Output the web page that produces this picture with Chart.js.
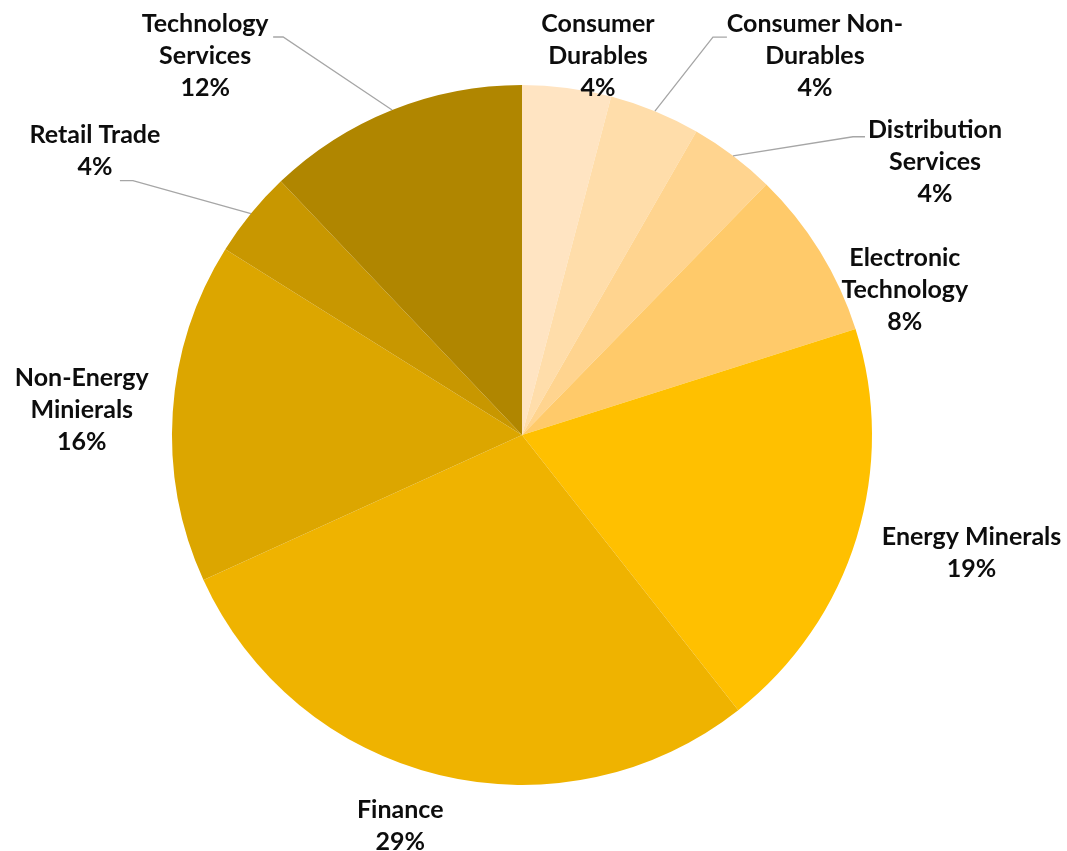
<!DOCTYPE html>
<html>
<head>
<meta charset="utf-8">
<script src="https://cdn.jsdelivr.net/npm/chart.js@4/dist/chart.umd.min.js"></script>
<style>
  html, body { margin: 0; padding: 0; background: #fff; }
  #wrap { width: 1067px; height: 851px; }
</style>
</head>
<body>
<div id="wrap"><canvas id="pie"></canvas></div>
<script>
// Données (sens horaire depuis midi)
const categories = [
  ["Consumer", "Durables"],
  ["Consumer Non-", "Durables"],
  ["Distribution", "Services"],
  ["Electronic", "Technology"],
  ["Energy Minerals"],
  ["Finance"],
  ["Non-Energy", "Minierals"],
  ["Retail Trade"],
  ["Technology", "Services"]
];
const shares = [4.1, 4.2, 4.0, 7.8, 19.3, 28.8, 15.7, 4.0, 12.1];

// Couleurs des parts
const sliceColors = [
  "#FFE4C2", "#FFDDAA", "#FFD48F", "#FFCA6A", "#FFC000",
  "#EFB300", "#DCA600", "#C89700", "#B08600"
];

// Décalage des étiquettes par rapport au bord de la part (px)
const labelOffsets = [
  [31, -32], [160, -55], [202, 6], [85, 39], [115, 15],
  [-39, 51], [-91, -2], [-156, -63], [-187, -54]
];
// Coude des traits de rappel, relatif au centre de l'étiquette (null = pas de trait)
const leaderElbows = [
  null, [[-102, -19], [-88, -19]], [[-82, -25], [-70, -25]], null, null,
  null, null, [[38, 30], [25, 30]], [[78, -19], [68, -19]]
];

const FONT = "bold 25px Lato, 'Open Sans', sans-serif";
const LINE_H = 32;

const outsideLabels = {
  id: "outsideLabels",
  afterDatasetsDraw(chart) {
    const ctx = chart.ctx;
    const meta = chart.getDatasetMeta(0);
    const total = shares.reduce((a, b) => a + b, 0);
    ctx.save();
    meta.data.forEach((arc, i) => {
      const mid = (arc.startAngle + arc.endAngle) / 2;
      const ex = arc.x + Math.cos(mid) * arc.outerRadius;
      const ey = arc.y + Math.sin(mid) * arc.outerRadius;
      const lx = ex + labelOffsets[i][0];
      const ly = ey + labelOffsets[i][1];

      const lead = leaderElbows[i];
      if (lead) {
        ctx.strokeStyle = "#A6A6A6";
        ctx.lineWidth = 1.3;
        ctx.beginPath();
        ctx.moveTo(ex, ey);
        ctx.lineTo(lx + lead[0][0], ly + lead[0][1]);
        ctx.lineTo(lx + lead[1][0], ly + lead[1][1]);
        ctx.stroke();
      }

      const lines = categories[i].concat([Math.round(shares[i] / total * 100) + "%"]);
      ctx.font = FONT;
      ctx.fillStyle = "#0D0D0D";
      ctx.textAlign = "center";
      ctx.textBaseline = "middle";
      const top = ly - (lines.length - 1) * LINE_H / 2;
      lines.forEach((t, k) => ctx.fillText(t, lx, top + k * LINE_H));
    });
    ctx.restore();
  }
};

new Chart(document.getElementById("pie"), {
  type: "pie",
  data: {
    labels: categories.map((c) => c.join(" ")),
    datasets: [{
      data: shares,
      backgroundColor: sliceColors,
      borderWidth: 0
    }]
  },
  options: {
    responsive: true,
    maintainAspectRatio: false,
    animation: false,
    layout: { padding: { left: 172, right: 195, top: 85, bottom: 66 } },
    plugins: {
      legend: { display: false },
      tooltip: { enabled: false }
    }
  },
  plugins: [outsideLabels]
});
</script>
</body>
</html>
